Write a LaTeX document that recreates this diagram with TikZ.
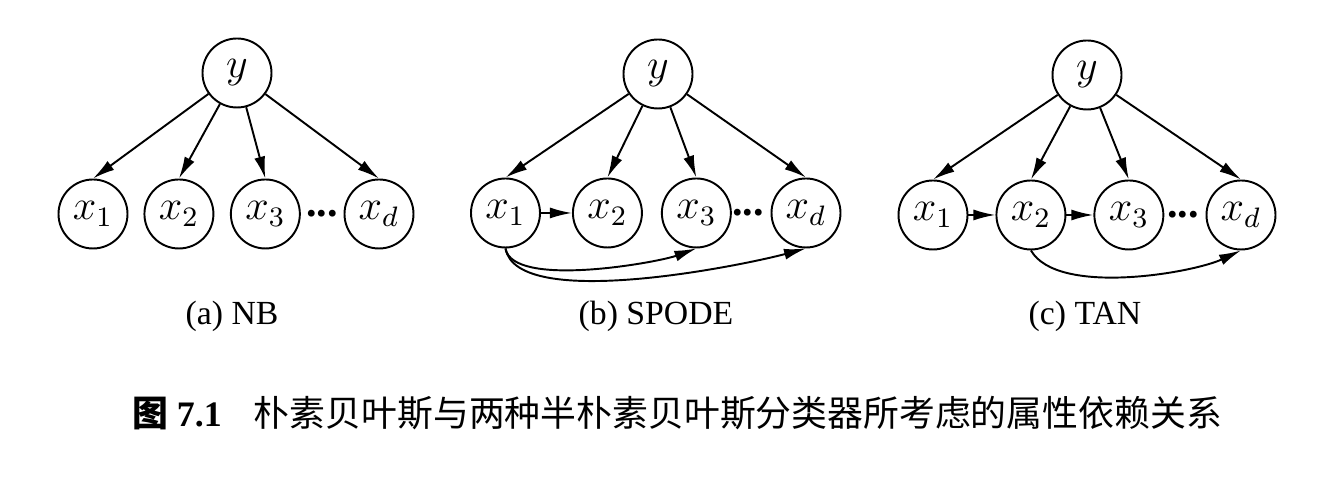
\documentclass[tikz,border=0pt]{standalone}
\usepackage{fontspec}
\setmainfont{Liberation Serif}
\newfontfamily\cjk{Noto Sans CJK SC}
\usetikzlibrary{
    arrows.meta,
    positioning
}

\begin{document}
\begin{tikzpicture}[>={Latex[length=2.2mm,width=1.1mm]},
    var/.style={circle, draw, line width=0.55pt, minimum size=0.69cm, inner sep=0pt, font=\large},
    dots/.style={font=\large\bfseries},
    sub/.style={font=\fontsize{9.6}{11}\selectfont},
    every edge/.style={draw, line width=0.55pt}]
        \useasboundingbox (0,0) rectangle (13.36,4.8);
        \node[var] at (2.37, 4.07) (nby) {$y$};
        \node[var] at (0.93, 2.66) (nbx1) {$x_1$};
        \node[var, right=0.15cm of nbx1] (nbx2) {$x_2$};
        \node[var, right=0.155cm of nbx2] (nbx3) {$x_3$};
        \node[var] at (3.79, 2.66) (nbxd) {$x_d$};
        \node[dots] at (3.22, 2.66) (nbdots) {...};
        \node[sub] at (2.32, 1.64) (nbcap) {(a) NB};
        \node[var] at (6.58, 4.06) (spy) {$y$};
        \node[var] at (5.055, 2.67) (spx1) {$x_1$};
        \node[var, right=0.31cm of spx1] (spx2) {$x_2$};
        \node[var, right=0.18cm of spx2] (spx3) {$x_3$};
        \node[var] at (8.06, 2.67) (spxd) {$x_d$};
        \node[dots] at (7.48, 2.67) (spdots) {...};
        \node[sub] at (6.56, 1.64) (spcap) {(b) SPODE};
        \node[var] at (10.87, 4.05) (tany) {$y$};
        \node[var] at (9.33, 2.65) (tanx1) {$x_1$};
        \node[var, right=0.27cm of tanx1] (tanx2) {$x_2$};
        \node[var, right=0.27cm of tanx2] (tanx3) {$x_3$};
        \node[var] at (12.41, 2.65) (tanxd) {$x_d$};
        \node[dots] at (11.83, 2.65) (tandots) {...};
        \node[sub] at (10.85, 1.64) (tancap) {(c) TAN};
        \node at (6.77, 0.67) (figcap) {\fontsize{10.2}{12}\selectfont{\cjk\bfseries 图}~\textbf{7.1}\hspace{0.9em}{\cjk 朴素贝叶斯与两种半朴素贝叶斯分类器所考虑的属性依赖关系}};
        \draw
        (nby) edge[->] (nbx1.north)
        (nby) edge[->] (nbx2.north)
        (nby) edge[->] (nbx3.north)
        (nby) edge[->] (nbxd.north)
        (spy) edge[->] (spx1.north)
        (spy) edge[->] (spx2.north)
        (spy) edge[->] (spx3.north)
        (spy) edge[->] (spxd.north)
        (spx1) edge[->] (spx2)
        (spx1.south) edge[->, out=-80, in=-160, looseness=0.55] (spx3.south)
        (spx1.south) edge[->, out=-80, in=-165, looseness=0.55] (spxd.south)
        (tany) edge[->] (tanx1.north)
        (tany) edge[->] (tanx2.north)
        (tany) edge[->] (tanx3.north)
        (tany) edge[->] (tanxd.north)
        (tanx1) edge[->] (tanx2)
        (tanx2) edge[->] (tanx3)
        (tanx2.south) edge[->, out=-60, in=-155, looseness=0.65] (tanxd.south);
    \end{tikzpicture}
\end{document}
